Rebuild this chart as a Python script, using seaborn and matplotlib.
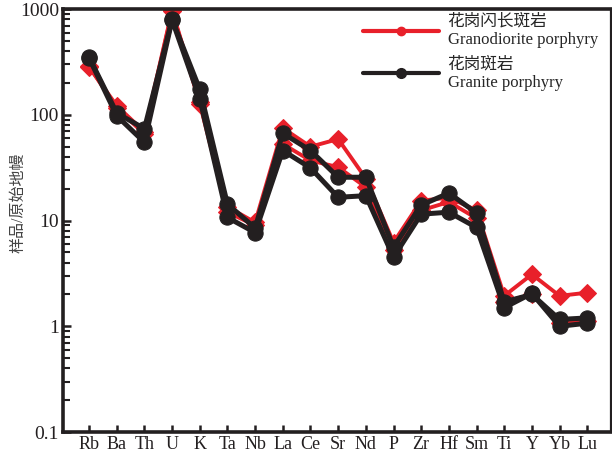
import numpy as np
import pandas as pd
import seaborn as sns
import matplotlib
matplotlib.use("Agg")
import matplotlib.pyplot as plt
from matplotlib.lines import Line2D

ELEMENTS = ["Rb", "Ba", "Th", "U", "K", "Ta", "Nb", "La", "Ce", "Sr",
            "Nd", "P", "Zr", "Hf", "Sm", "Ti", "Y", "Yb", "Lu"]

# granodiorite porphyry (red)
granodiorite_1 = [283, 122, 69, 975, 132, 13.5, 9.6, 75, 50, 59,
                  25, 6.2, 15.4, 16.5, 12.5, 1.94, 3.1, 1.94, 2.08]
granodiorite_2 = [290, 115, 66, 950, 128, 12.0, 9.0, 53, 37, 32,
                  20.7, 5.3, 12.5, 15.0, 10.5, 1.7, 2.0, 1.08, 1.12]

# granite porphyry (black)
granite_1 = [352, 104, 74, 800, 174, 14.3, 8.5, 67, 46, 25.7,
             25.7, 5.6, 14.0, 18.2, 11.8, 1.7, 2.0, 1.16, 1.2]
granite_2 = [345, 98, 55, 790, 142, 10.7, 7.7, 46, 31.5, 16.6,
             17.2, 4.5, 11.5, 12.0, 8.6, 1.5, 2.05, 1.0, 1.07]

RED = "#e8202a"
BLACK = "#231f20"
LABEL_RED = "花岗闪长斑岩\nGranodiorite porphyry"
LABEL_BLACK = "花岗斑岩\nGranite porphyry"

sns.set_style("ticks")
plt.rcParams["font.family"] = ["Liberation Serif", "Noto Sans CJK SC", "DejaVu Sans"]

fig = plt.figure(figsize=(6.12, 4.57), dpi=100)
ax = fig.add_axes([0.103, 0.0547, 0.895, 0.9253])

x = np.arange(len(ELEMENTS))

for vals in [granodiorite_1, granodiorite_2]:
    sns.lineplot(x=x, y=vals, color=RED, marker="D", markersize=9,
                 markeredgecolor=RED, linewidth=2.8, sort=False, ax=ax, zorder=2)
for vals in [granite_1, granite_2]:
    sns.lineplot(x=x, y=vals, color=BLACK, marker="o", markersize=11,
                 markeredgecolor=BLACK, linewidth=3.6, sort=False, ax=ax, zorder=3)

ax.set_yscale("log")
ax.set_ylim(0.1, 1000)
ax.set_xlim(-0.94, 18.85)
ax.set_yticks([0.1, 1, 10, 100, 1000])
ax.set_yticklabels(["0.1", "1", "10", "100", "1000"])
ax.set_xticks(x)
ax.set_xticklabels(ELEMENTS)

ax.tick_params(axis="both", which="both", direction="in", colors=BLACK)
ax.tick_params(axis="y", which="major", length=6, width=1.8, pad=3, labelsize=14)
ax.tick_params(axis="y", which="minor", length=5, width=1.5)
ax.tick_params(axis="x", which="major", length=5, width=1.8, pad=3, labelsize=13)
ax.tick_params(axis="x", which="minor", bottom=False)

for side in ["left", "bottom", "top"]:
    ax.spines[side].set_linewidth(2.6)
    ax.spines[side].set_color(BLACK)
ax.spines["right"].set_linewidth(1.6)
ax.spines["right"].set_color(BLACK)

ax.set_xlabel("")
ax.set_ylabel("样品/原始地幔", fontsize=11.5, color="#444444")
ax.yaxis.set_label_coords(-0.066, 0.541)

handles = [
    Line2D([], [], color=RED, linewidth=3, marker="o", markersize=6, label=LABEL_RED),
    Line2D([], [], color=BLACK, linewidth=3, marker="o", markersize=7, label=LABEL_BLACK),
]
ax.legend(handles=handles, loc="upper left", bbox_to_anchor=(0.547, 0.99),
          frameon=False, fontsize=12, handlelength=4.6, handletextpad=0.5,
          labelspacing=0.5, borderpad=0, borderaxespad=0)

fig.savefig("out.png", dpi=100)
